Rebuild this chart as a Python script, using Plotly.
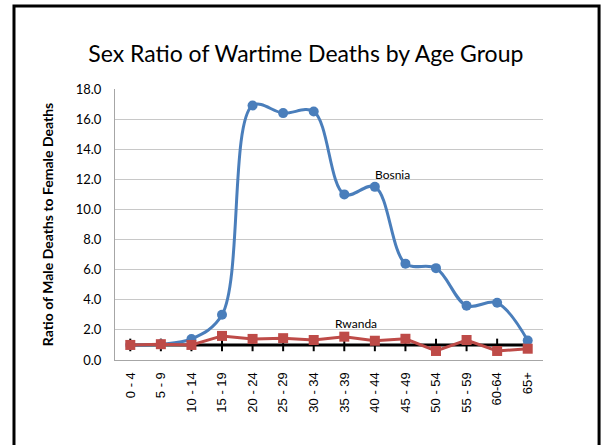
import plotly.graph_objects as go

# age groups on the category axis
age_groups = ["0 - 4", "5 - 9", "10 - 14", "15 - 19", "20 - 24", "25 - 29", "30 - 34",
              "35 - 39", "40 - 44", "45 - 49", "50 - 54", "55 - 59", "60-64", "65+"]

# ratio of male to female deaths
bosnia = [1.0, 1.05, 1.4, 3.0, 16.9, 16.4, 16.5, 11.0, 11.5, 6.4, 6.1, 3.6, 3.8, 1.3]
rwanda = [1.0, 1.05, 1.0, 1.6, 1.4, 1.45, 1.33, 1.55, 1.28, 1.41, 0.6, 1.33, 0.6, 0.75]
parity = [1.0] * len(age_groups)

BLUE = "#4a7ebb"
RED = "#be4b48"
FONT = "Lato, Open Sans, sans-serif"

fig = go.Figure()

# parity reference line (ratio = 1)
fig.add_trace(go.Scatter(
    x=age_groups, y=parity, mode="lines+markers", name="Parity",
    line=dict(color="black", width=3),
    marker=dict(symbol="line-ns-open", size=9, color="black", line=dict(width=2, color="black")),
    cliponaxis=False, showlegend=False,
))

fig.add_trace(go.Scatter(
    x=age_groups, y=bosnia, mode="lines+markers", name="Bosnia",
    line=dict(color=BLUE, width=3, shape="spline", smoothing=1.0),
    marker=dict(symbol="circle", size=10, color=BLUE),
    showlegend=False,
))

fig.add_trace(go.Scatter(
    x=age_groups, y=rwanda, mode="lines+markers", name="Rwanda",
    line=dict(color=RED, width=3),
    marker=dict(symbol="square", size=10, color=RED),
    showlegend=False,
))

# series labels
fig.add_annotation(x=8.57, y=12.35, xref="x", yref="y", text="Bosnia", showarrow=False,
                   font=dict(family=FONT, size=12, color="black"))
fig.add_annotation(x=7.39, y=2.4, xref="x", yref="y", text="Rwanda", showarrow=False,
                   font=dict(family=FONT, size=12, color="black"))

# slide frame
fig.add_shape(type="rect", xref="paper", yref="paper",
              x0=-0.236, x1=1.131, y0=-0.33, y1=1.306,
              line=dict(color="black", width=3), layer="above")

fig.update_layout(
    width=602, height=445,
    margin=dict(l=115, r=59, t=89, b=85),
    paper_bgcolor="white", plot_bgcolor="white",
    title=dict(text="Sex Ratio of Wartime Deaths by Age Group",
               x=0.508, xanchor="center", y=0.878, yanchor="middle",
               font=dict(family=FONT, size=23, color="black")),
)

fig.update_xaxes(
    type="category", range=[-0.5, 13.5],
    tickangle=-90, ticks="", showgrid=False, ticklabelstandoff=6,
    showline=True, linecolor="#a6a6a6", linewidth=1,
    tickfont=dict(family="Liberation Sans, Arial, sans-serif", size=13, color="black"),
)

fig.update_yaxes(
    range=[0, 18], dtick=2, tickformat=".1f",
    showgrid=True, gridcolor="#c8c8c8", gridwidth=1,
    showline=True, linecolor="#a6a6a6", linewidth=1,
    zeroline=False, ticks="", ticklabelstandoff=10,
    tickfont=dict(family=FONT, size=13, color="black"),
    title=dict(text="<b>Ratio of Male Deaths to Female Deaths</b>", standoff=18,
               font=dict(family=FONT, size=14, color="black")),
)

fig.write_html("out.html", config={"displayModeBar": False},
               post_script="document.body.style.margin='0px';")
